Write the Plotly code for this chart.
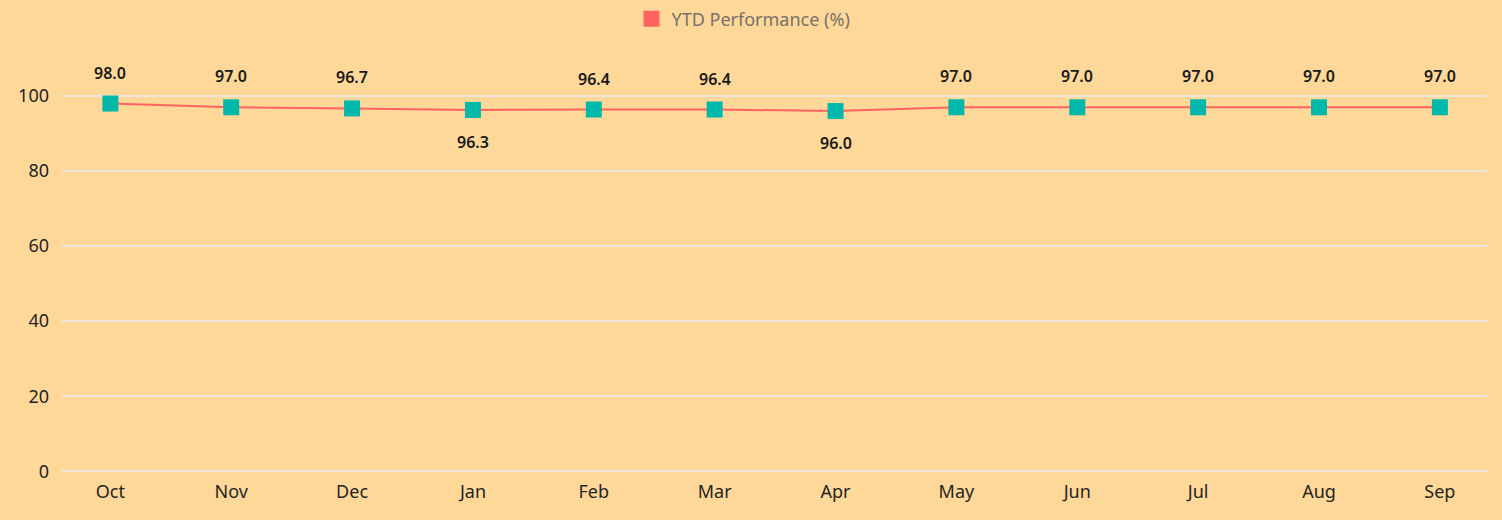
import plotly.graph_objects as go

months = ["Oct", "Nov", "Dec", "Jan", "Feb", "Mar", "Apr", "May", "Jun", "Jul", "Aug", "Sep"]
ytd_perf = [98.0, 97.0, 96.7, 96.3, 96.4, 96.4, 96.0, 97.0, 97.0, 97.0, 97.0, 97.0]
label_pos = ["above", "above", "above", "below", "above", "above", "below",
             "above", "above", "above", "above", "above"]
series_name = "YTD Performance (%)"

BG = "#FED899"
LINE = "#FF6361"
MARK = "#01B8AA"

fig = go.Figure()
fig.add_trace(go.Scatter(
    x=list(range(len(months))), y=ytd_perf, mode="lines+markers",
    line=dict(color=LINE, width=2),
    marker=dict(symbol="square", size=16, color=MARK),
    showlegend=False, hoverinfo="skip",
))
fig.add_trace(go.Scatter(
    x=[None], y=[None], mode="markers", name=series_name,
    marker=dict(symbol="square", size=17, color=LINE),
))

for i, (v, p) in enumerate(zip(ytd_perf, label_pos)):
    fig.add_annotation(
        x=i, y=v, text=f"{v:.1f}", showarrow=False,
        yshift=31 if p == "above" else -32,
        font=dict(family="Noto Sans", size=16, color="#1a1a1a", weight=600),
    )

fig.update_layout(
    width=1502, height=520,
    paper_bgcolor=BG, plot_bgcolor=BG,
    margin=dict(l=62, r=15, t=51, b=45),
    font=dict(family="Noto Sans", size=18, color="#252423"),
    legend=dict(orientation="h", x=0.495, xref="container", xanchor="center",
                y=1 - 19 / 520, yref="container", yanchor="middle",
                font=dict(size=18, color="#77726b"),
                itemwidth=30, bgcolor="rgba(0,0,0,0)"),
    xaxis=dict(
        tickmode="array", tickvals=list(range(len(months))), ticktext=months,
        range=[-0.4, 11.39], showgrid=False, zeroline=False, showline=False,
        ticks="", tickfont=dict(size=18, color="#252423"),
        ticklabelstandoff=4,
    ),
    yaxis=dict(
        range=[-1, 112], tickvals=[0, 20, 40, 60, 80, 100],
        showgrid=True, gridcolor="#EDE6DA", gridwidth=2, zeroline=False,
        showline=False, ticks="", tickfont=dict(size=18, color="#252423"),
        ticklabelstandoff=12,
    ),
)

fig.write_html("out.html", config={"displayModeBar": False},
               post_script="document.body.style.margin='0';document.body.style.overflow='hidden';")
